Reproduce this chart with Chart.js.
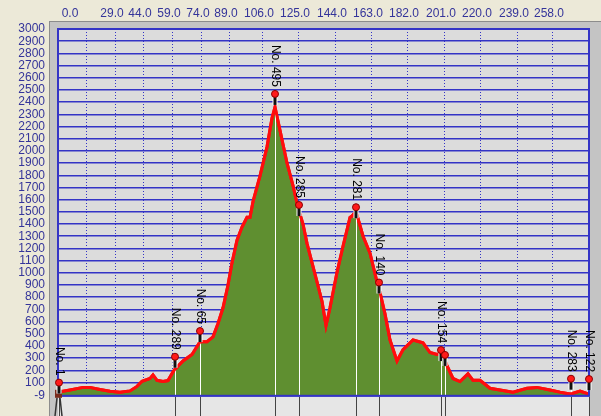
<!DOCTYPE html>
<html>
<head>
<meta charset="utf-8">
<script src="https://cdn.jsdelivr.net/npm/chart.js@4.4.0/dist/chart.umd.min.js"></script>
<style>
html, body { margin: 0; padding: 0; background: #ece9d8; }
#wrap { width: 601px; height: 416px; }
</style>
</head>
<body>
<div id="wrap"><canvas id="profileChart" width="601" height="416"></canvas></div>
<script>
// Track profile: distance along the track and elevation (m)
const distance = [0, 6, 12.5, 16, 21, 26, 31, 36, 39.5, 42, 46, 47.5, 49.5, 52.5, 55, 57.5, 58.5,
    62.5, 67, 71, 74.5, 77.5, 80, 82.5, 85, 87, 89.5, 92, 94.5, 96, 97.5, 101, 104.5, 107, 108.5,
    111, 114.5, 117.5, 120, 122.5, 124.5, 127, 129.5, 132, 134, 136, 139.5, 142.5, 146, 147, 149,
    152.5, 156, 159.5, 161, 163.5, 166, 169.5, 172.5, 177.5, 182.5, 186, 189.5, 191.5, 193, 194.5,
    197.5, 201, 205, 207.5, 211, 216, 221, 227.5, 234.5, 239.5, 246, 251, 256, 261, 265.5];
const elevation = [21, 39, 60, 60, 42, 29, 21, 31, 68, 110, 133, 163, 118, 108, 116, 187, 209,
    277, 330, 435, 435, 475, 584, 713, 900, 1083, 1267, 1375, 1455, 1455, 1584, 1795, 2033, 2270, 2360,
    2168, 1901, 1716, 1534, 1400, 1241, 1083, 926, 766, 567, 713, 1004, 1218, 1455, 1465, 1502,
    1302, 1161, 926, 840, 663, 449, 277, 370, 449, 425, 346, 330, 339, 304, 238,
    133, 108, 171, 118, 118, 53, 39, 21, 53, 60, 39, 21, 5, 29, 5];

// Waypoints marked on the profile
const pinDistance = [0.5, 58.5, 71, 108.5, 120.5, 149, 160.5, 191.5, 193.5, 256.5, 265.5];
const pinElevation = [9, 221, 432, 2377, 1466, 1448, 830, 276, 236, 41, 38];
const pinLabels = ['No. 1', 'No. 289', 'No. 65', 'No. 495', 'No. 285', 'No. 281', 'No. 140', 'No. 154', '', 'No. 283', 'No. 122'];

// Axes
const yTicks = [-9, 100, 200, 300, 400, 500, 600, 700, 800, 900, 1000, 1100, 1200, 1300, 1400, 1500,
    1600, 1700, 1800, 1900, 2000, 2100, 2200, 2300, 2400, 2500, 2600, 2700, 2800, 2900, 3000];
const gridDistance = [7.5, 14, 28.5, 42.5, 57, 71.5, 85.5, 102, 120, 138.5, 156.5, 174.5, 193, 211, 229.5, 247, 265.5];
const topLabels = ['0.0', '', '29.0', '44.0', '59.0', '74.0', '89.0', '106.0', '125.0', '144.0', '163.0',
    '182.0', '201.0', '220.0', '239.0', '258.0', ''];

const blue = '#3434c6';
const labelBlue = '#34349a';

// Window background, frame and plot face
const framePlugin = {
    id: 'framePlugin',
    beforeDraw(chart) {
        const { ctx, chartArea: a, width, height } = chart;
        ctx.save();
        ctx.fillStyle = '#ece9d8';
        ctx.fillRect(0, 0, width, height);
        ctx.fillStyle = '#c4c4c4';
        ctx.fillRect(a.left - 9, a.top - 8, width, height);
        ctx.fillStyle = '#8c8c8c';
        ctx.fillRect(a.left - 9, a.top - 8, 1, height);
        ctx.fillRect(a.left - 9, a.top - 8, width, 1);
        ctx.fillStyle = '#dcdcdc';
        ctx.fillRect(a.left, a.top, a.right - a.left, a.bottom - a.top);
        ctx.fillStyle = '#e6e6e6';
        ctx.fillRect(a.left, a.bottom, a.right - a.left, height - a.bottom);
        ctx.restore();
    }
};

// Red line above the grid, plot border, waypoint pins
const pinPlugin = {
    id: 'pinPlugin',
    afterDraw(chart) {
        const { ctx, chartArea: a, scales, height } = chart;
        const xs = scales.x, ys = scales.y;
        ctx.save();

        pinDistance.forEach((d, i) => {
            const px = Math.round(xs.getPixelForValue(d)) + 0.5;
            const py = ys.getPixelForValue(pinElevation[i]);
            ctx.strokeStyle = '#ffffff';
            ctx.lineWidth = 1;
            ctx.beginPath();
            ctx.moveTo(px, py);
            ctx.lineTo(px, a.bottom);
            ctx.stroke();
            ctx.strokeStyle = '#444444';
            ctx.beginPath();
            ctx.moveTo(px, a.bottom + 1);
            ctx.lineTo(px, height);
            ctx.stroke();
        });

        ctx.save();
        ctx.beginPath();
        ctx.rect(a.left - 2, a.top, a.right - a.left + 4, a.bottom - a.top);
        ctx.clip();
        chart.getDatasetMeta(0).dataset.draw(ctx, a);
        ctx.restore();

        ctx.strokeStyle = blue;
        ctx.lineWidth = 2;
        ctx.strokeRect(a.left, a.top, a.right - a.left, a.bottom - a.top);

        // little hiker at the start point
        const hx = Math.round(xs.getPixelForValue(pinDistance[0]));
        ctx.fillStyle = '#7a2a1c';
        ctx.fillRect(hx - 4, a.bottom - 6, 7, 8);
        ctx.strokeStyle = '#333333';
        ctx.lineWidth = 1.5;
        ctx.beginPath();
        ctx.moveTo(hx - 2, a.bottom + 2);
        ctx.lineTo(hx - 4, height);
        ctx.moveTo(hx + 1, a.bottom + 2);
        ctx.lineTo(hx + 3, height);
        ctx.stroke();

        pinDistance.forEach((d, i) => {
            const px = Math.round(xs.getPixelForValue(d));
            const py = ys.getPixelForValue(pinElevation[i]);
            ctx.fillStyle = '#ffffff';
            ctx.fillRect(px - 2.5, py - 10, 5, 10);
            ctx.fillStyle = '#111111';
            ctx.fillRect(px - 1.5, py - 10, 3, 10);
            ctx.beginPath();
            ctx.arc(px, py - 11, 3.5, 0, Math.PI * 2);
            ctx.fillStyle = '#ff1a1a';
            ctx.fill();
            ctx.strokeStyle = '#8a0000';
            ctx.lineWidth = 1;
            ctx.stroke();

            ctx.save();
            ctx.translate(px, py - 18);
            ctx.rotate(Math.PI / 2);
            ctx.font = '12px "Liberation Sans", Arial, sans-serif';
            ctx.fillStyle = '#000000';
            ctx.textAlign = 'right';
            ctx.textBaseline = 'middle';
            ctx.fillText(pinLabels[i], 0, 0);
            ctx.restore();
        });
        ctx.restore();
    }
};

const ctx = document.getElementById('profileChart').getContext('2d');
new Chart(ctx, {
    type: 'line',
    data: {
        datasets: [{
            data: distance.map((d, i) => ({ x: d, y: elevation[i] })),
            borderColor: '#ff0d0d',
            borderWidth: 3,
            backgroundColor: '#5f8f30',
            fill: 'start',
            pointRadius: 0,
            tension: 0
        }]
    },
    options: {
        responsive: false,
        animation: false,
        devicePixelRatio: 1,
        layout: { padding: { left: 0, right: 12, top: 0, bottom: 7 } },
        plugins: {
            legend: { display: false },
            tooltip: { enabled: false }
        },
        scales: {
            x: {
                type: 'linear',
                position: 'top',
                min: 0,
                max: 265.5,
                z: 1,
                afterBuildTicks: axis => { axis.ticks = gridDistance.map(v => ({ value: v })); },
                afterFit: scale => { scale.height = 29; },
                ticks: {
                    autoSkip: false,
                    maxRotation: 0,
                    padding: 8,
                    labelOffset: -3,
                    color: labelBlue,
                    font: { family: '"Liberation Sans", Arial, sans-serif', size: 12 },
                    callback: (value, index) => topLabels[index]
                },
                grid: {
                    color: c => (c.index === 0 ? 'rgba(0,0,0,0)' : blue),
                    lineWidth: 1,
                    drawTicks: false
                },
                border: { display: false, dash: [1, 2] }
            },
            y: {
                min: -9,
                max: 3000,
                z: 1,
                afterBuildTicks: axis => { axis.ticks = yTicks.map(v => ({ value: v })); },
                afterFit: scale => { scale.width = 58; },
                ticks: {
                    autoSkip: false,
                    padding: 13,
                    color: labelBlue,
                    font: { family: '"Liberation Sans", Arial, sans-serif', size: 12 },
                    callback: value => String(value)
                },
                grid: {
                    color: blue,
                    lineWidth: 1.5,
                    drawTicks: false
                },
                border: { display: false }
            }
        }
    },
    plugins: [framePlugin, pinPlugin]
});
</script>
</body>
</html>
